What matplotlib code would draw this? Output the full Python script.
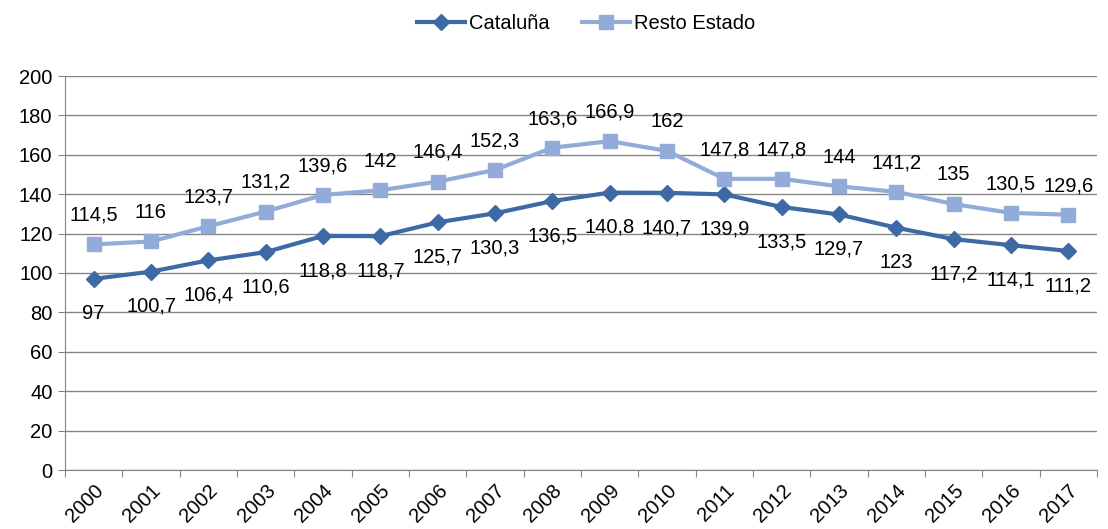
import numpy as np
import matplotlib.pyplot as plt

plt.rcParams['font.family'] = ['Liberation Sans', 'DejaVu Sans']

years = [str(y) for y in range(2000, 2018)]
cataluna = [97, 100.7, 106.4, 110.6, 118.8, 118.7, 125.7, 130.3, 136.5, 140.8,
            140.7, 139.9, 133.5, 129.7, 123, 117.2, 114.1, 111.2]
resto = [114.5, 116, 123.7, 131.2, 139.6, 142, 146.4, 152.3, 163.6, 166.9,
         162, 147.8, 147.8, 144, 141.2, 135, 130.5, 129.6]

c_cat = '#3D6AA5'
c_res = '#93ABD8'
grid_c = '#868686'
fs = 14.5


def fmt(v):
    s = ('%.1f' % v).rstrip('0').rstrip('.')
    return s.replace('.', ',')


fig = plt.figure(figsize=(11.08, 5.29), dpi=100)
ax = fig.add_axes([65 / 1108, 1 - 470 / 529, (1097 - 65) / 1108, (470 - 76) / 529])

x = np.arange(len(years))
ax.plot(x, cataluna, color=c_cat, lw=3, marker='D', ms=8, label='Cataluña')
ax.plot(x, resto, color=c_res, lw=3, marker='s', ms=10, label='Resto Estado')

for xi, v in zip(x, cataluna):
    ax.annotate(fmt(v), (xi, v), xytext=(0, -25), textcoords='offset points',
                ha='center', va='center', fontsize=fs, color='black')
for xi, v in zip(x, resto):
    ax.annotate(fmt(v), (xi, v), xytext=(0, 21), textcoords='offset points',
                ha='center', va='center', fontsize=fs, color='black')

ax.set_xlim(-0.5, len(years) - 0.5)
ax.set_ylim(0, 200)
ax.set_yticks(range(0, 201, 20))
ax.yaxis.grid(True, color=grid_c, lw=1)
ax.set_axisbelow(True)

ax.set_xticks(np.arange(-0.5, len(years), 1), minor=False)
ax.set_xticklabels([])
ax.set_xticks(x, minor=True)
ax.set_xticklabels(years, minor=True, rotation=45, ha='right', rotation_mode='anchor', fontsize=fs)
ax.tick_params(axis='x', which='minor', length=0, pad=8)
ax.tick_params(axis='x', which='major', length=5, color=grid_c, direction='out')
ax.tick_params(axis='y', length=5, color=grid_c, labelsize=fs, pad=4)

for s in ['top', 'right']:
    ax.spines[s].set_visible(False)
for s in ['left', 'bottom']:
    ax.spines[s].set_color(grid_c)

fig.legend(loc='upper center', bbox_to_anchor=(0.529, 1.008), ncol=2, frameon=False,
           fontsize=fs, handlelength=2.4, columnspacing=1.6, handletextpad=0.2)

fig.savefig('out.png', dpi=100)
